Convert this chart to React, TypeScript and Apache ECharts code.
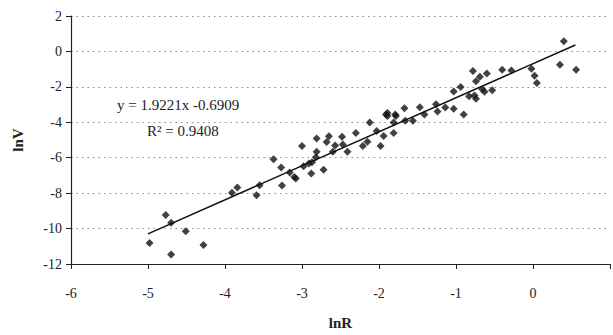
import React, { useEffect, useRef } from "react";
import * as echarts from "echarts";

const lnR: number[] = [
  -4.77, -4.70, -4.98, -4.70, -4.51, -4.28, -3.91, -3.84, -3.59, -3.55,
  -3.37, -3.27, -3.26, -3.16, -3.10, -3.08, -3.00, -2.98, -2.91, -2.88,
  -2.82, -2.81, -2.81, -2.72, -2.68, -2.65, -2.60, -2.57, -2.48, -2.47,
  -2.41, -2.30, -2.21, -2.15, -2.12, -2.03, -1.98, -1.94, -1.91, -1.89,
  -1.89, -1.81, -1.78, -1.81, -1.67, -1.66, -1.56, -1.47, -1.41, -1.26,
  -1.24, -1.14, -1.03, -1.03, -0.94, -0.90, -0.83, -0.78, -0.76, -0.74,
  -0.74, -0.69, -0.66, -0.60, -0.53, -0.63, -0.40, -0.28, -0.02, 0.02,
  0.05, 0.35, 0.40, 0.56, -1.79, -2.87,
];
const lnV: number[] = [
  -9.24, -9.67, -10.81, -11.47, -10.15, -10.93, -7.98, -7.68, -8.12, -7.55,
  -6.09, -6.55, -7.57, -6.84, -7.09, -7.18, -5.34, -6.48, -6.32, -6.89,
  -5.97, -5.66, -4.92, -6.68, -5.11, -4.79, -5.66, -5.31, -4.81, -5.25,
  -5.66, -4.61, -5.34, -5.10, -4.01, -4.49, -5.34, -4.78, -3.56, -3.47,
  -3.65, -4.60, -3.65, -4.01, -3.21, -3.92, -3.92, -3.15, -3.56, -2.98,
  -3.39, -3.17, -3.24, -2.26, -2.01, -3.56, -2.53, -1.11, -2.49, -2.67,
  -1.69, -1.43, -2.14, -1.25, -2.19, -2.28, -1.04, -1.07, -0.98, -1.37,
  -1.78, -0.75, 0.57, -1.04, -3.56, -6.25,
];

const slope = 1.9221;
const intercept = -0.6909;
const trendX: number[] = [-5.0, 0.55];

const xTicks = [-6, -5, -4, -3, -2, -1, 0];

export default function App() {
  const ref = useRef<HTMLDivElement>(null);
  useEffect(() => {
    if (!ref.current) return;
    const chart = echarts.init(ref.current, undefined, { renderer: "svg" });
    const font = "'Liberation Serif', 'Times New Roman', serif";
    chart.setOption({
      animation: false,
      backgroundColor: "#fff",
      grid: { left: 71, right: -4.5, top: 16, bottom: 57, containLabel: false },
      xAxis: {
        type: "value",
        min: -6,
        max: 1,
        interval: 1,
        name: "lnR",
        nameLocation: "middle",
        nameGap: 51,
        nameTextStyle: { fontFamily: font, fontWeight: "bold", fontSize: 15, color: "#222" },
        axisLine: { show: true, onZero: false, lineStyle: { color: "#222", width: 1.2 } },
        axisTick: { show: true, length: 5, lineStyle: { color: "#222" } },
        axisLabel: {
          fontFamily: font,
          fontSize: 14,
          color: "#222",
          margin: 22,
          formatter: (v: number) => (xTicks.includes(v) ? String(v) : ""),
        },
        splitLine: { show: false },
      },
      yAxis: {
        type: "value",
        min: -12,
        max: 2,
        interval: 2,
        name: "lnV",
        nameLocation: "middle",
        nameGap: 46,
        nameTextStyle: { fontFamily: font, fontWeight: "bold", fontSize: 15, color: "#222" },
        axisLine: { show: true, onZero: false, lineStyle: { color: "#222", width: 1.2 } },
        axisTick: { show: true, length: 5, lineStyle: { color: "#222" } },
        axisLabel: { fontFamily: font, fontSize: 14, color: "#222", margin: 9 },
        splitLine: { show: true, lineStyle: { color: "#888", type: [1.5, 4], width: 1 } },
      },
      graphic: [
        {
          type: "text",
          left: 117,
          top: 97,
          style: { text: "y = 1.9221x -0.6909", fontFamily: font, fontSize: 15, fill: "#222" },
        },
        {
          type: "text",
          left: 147,
          top: 123,
          style: { text: "R² = 0.9408", fontFamily: font, fontSize: 15, fill: "#222" },
        },
      ],
      series: [
        {
          type: "scatter",
          symbol: "diamond",
          symbolSize: 8,
          itemStyle: { color: "#111" },
          data: lnR.map((x, i) => [x, lnV[i]]),
          z: 3,
        },
        {
          type: "line",
          symbol: "none",
          lineStyle: { color: "#111", width: 1.5 },
          data: trendX.map((x) => [x, slope * x + intercept]),
          z: 2,
        },
      ],
    });
    return () => chart.dispose();
  }, []);
  return (
    <div
      ref={ref}
      style={{ position: "fixed", left: 0, top: 0, width: 613, height: 335 }}
    />
  );
}
